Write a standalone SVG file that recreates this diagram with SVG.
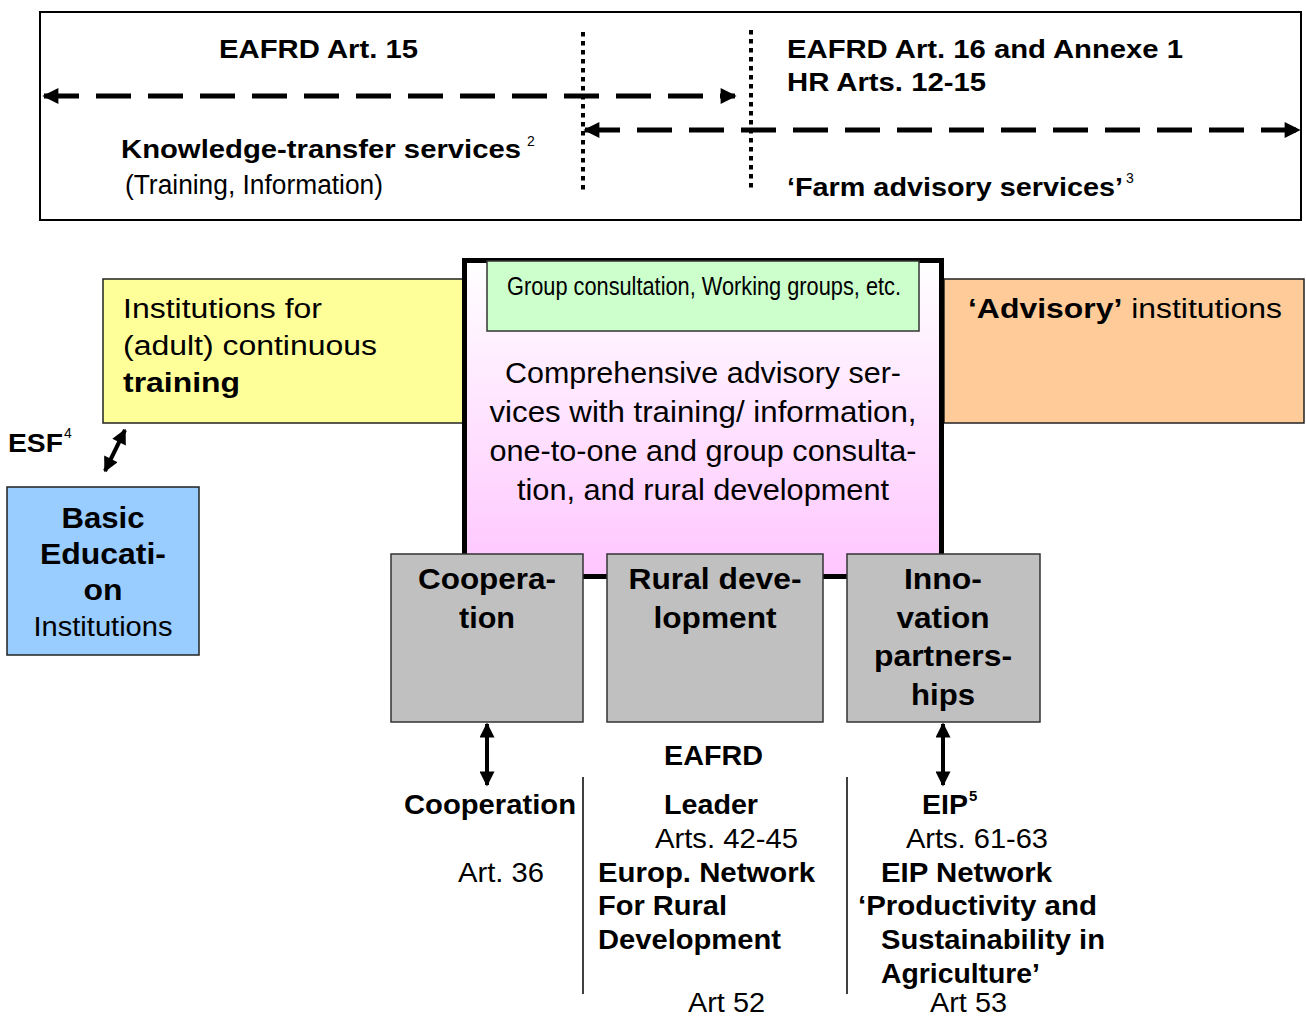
<svg xmlns="http://www.w3.org/2000/svg" width="1306" height="1017" viewBox="0 0 1306 1017">
<style>
text{font-family:"Liberation Sans",Arial,sans-serif;fill:#000}
.b{font-weight:bold}
.n{font-family:"Liberation Sans Narrow","Liberation Sans",Arial,sans-serif}
.box{stroke:#222;stroke-width:1.5}
.gray{fill:#C0C0C0;stroke:#333;stroke-width:1.5}
.dash{stroke:#000;stroke-width:5;stroke-dasharray:35 17;fill:none}
.dot{stroke:#000;stroke-width:4;stroke-dasharray:4.5 4.5;fill:none}
.arr{stroke:#000;stroke-width:4;fill:none}
.thin{stroke:#000;stroke-width:1.5}
</style>
<defs>
<linearGradient id="pink" x1="0" y1="0" x2="0" y2="1">
<stop offset="0" stop-color="#FFFFFF"/>
<stop offset="1" stop-color="#FFC6FF"/>
</linearGradient>
<marker id="ah" viewBox="0 0 10 10" refX="9" refY="5" markerWidth="18" markerHeight="16" markerUnits="userSpaceOnUse" orient="auto-start-reverse">
<path d="M0,0 L10,5 L0,10 z" fill="#000"/>
</marker>
<marker id="ah2" viewBox="0 0 10 10" refX="9" refY="5" markerWidth="18" markerHeight="15" markerUnits="userSpaceOnUse" orient="auto-start-reverse">
<path d="M0,0 L10,5 L0,10 z" fill="#000"/>
</marker>
</defs>

<g id="top-frame">
<rect x="40" y="12" width="1261" height="208" fill="#fff" stroke="#000" stroke-width="2"/>
<text class="b" x="219" y="58" font-size="26" textLength="199" lengthAdjust="spacingAndGlyphs">EAFRD Art. 15</text>
<text class="b" x="787" y="58" font-size="26" textLength="396" lengthAdjust="spacingAndGlyphs">EAFRD Art. 16 and Annexe 1</text>
<text class="b" x="787" y="91" font-size="26" textLength="199" lengthAdjust="spacingAndGlyphs">HR Arts. 12-15</text>
<text class="b" x="121" y="158" font-size="25" textLength="400" lengthAdjust="spacingAndGlyphs">Knowledge-transfer services</text>
<text x="527" y="146" font-size="14">2</text>
<text class="n" x="125" y="194" font-size="27" textLength="258" lengthAdjust="spacingAndGlyphs">(Training, Information)</text>
<text class="b" x="787" y="196" font-size="26" textLength="336" lengthAdjust="spacingAndGlyphs">‘Farm advisory services’</text>
<text x="1126" y="183" font-size="14">3</text>
</g>

<g id="connectors">
<line class="dash" x1="44" y1="96" x2="735" y2="96" marker-start="url(#ah)" marker-end="url(#ah)"/>
<line class="dash" x1="585" y1="130" x2="1299" y2="130" marker-start="url(#ah)" marker-end="url(#ah)"/>
<line class="dot" x1="583" y1="32" x2="583" y2="194"/>
<line class="dot" x1="751" y1="30" x2="751" y2="191"/>
<line class="arr" x1="125" y1="430" x2="105" y2="471" marker-start="url(#ah2)" marker-end="url(#ah2)"/>
<line class="arr" x1="487" y1="724" x2="487" y2="785" marker-start="url(#ah2)" marker-end="url(#ah2)"/>
<line class="arr" x1="943" y1="724" x2="943" y2="785" marker-start="url(#ah2)" marker-end="url(#ah2)"/>
<line class="thin" x1="583" y1="777" x2="583" y2="994"/>
<line class="thin" x1="847" y1="777" x2="847" y2="994"/>
</g>

<g id="training">
<rect class="box" x="103" y="279" width="360" height="144" fill="#FFFF99"/>
<text x="123" y="318" font-size="27" textLength="199" lengthAdjust="spacingAndGlyphs">Institutions for</text>
<text x="123" y="355" font-size="27" textLength="254" lengthAdjust="spacingAndGlyphs">(adult) continuous</text>
<text class="b" x="123" y="392" font-size="27" textLength="117" lengthAdjust="spacingAndGlyphs">training</text>
</g>

<g id="advisory">
<rect class="box" x="944" y="279" width="360" height="144" fill="#FFCC99"/>
<text x="968" y="318" font-size="27" textLength="314" lengthAdjust="spacingAndGlyphs"><tspan class="b">‘Advisory’</tspan> institutions</text>
</g>

<g id="central">
<rect x="464.5" y="260.5" width="477" height="316" fill="url(#pink)" stroke="#000" stroke-width="5"/>
<text class="n" x="703" y="383" font-size="30" text-anchor="middle" textLength="396" lengthAdjust="spacingAndGlyphs">Comprehensive advisory ser-</text>
<text class="n" x="703" y="422" font-size="30" text-anchor="middle" textLength="427" lengthAdjust="spacingAndGlyphs">vices with training/ information,</text>
<text class="n" x="703" y="461" font-size="30" text-anchor="middle" textLength="427" lengthAdjust="spacingAndGlyphs">one-to-one and group consulta-</text>
<text class="n" x="703" y="500" font-size="30" text-anchor="middle" textLength="372" lengthAdjust="spacingAndGlyphs">tion, and rural development</text>
</g>

<g id="group">
<rect x="487" y="261" width="432" height="70" fill="#CCFFCC" stroke="#333" stroke-width="1.5"/>
<text class="n" x="507" y="295" font-size="25" textLength="394" lengthAdjust="spacingAndGlyphs">Group consultation, Working groups, etc.</text>
</g>

<g id="esf-label">
<text class="b" x="8" y="452" font-size="25" textLength="55" lengthAdjust="spacingAndGlyphs">ESF</text>
<text x="64" y="438" font-size="14">4</text>
</g>

<g id="basic">
<rect class="box" x="7" y="487" width="192" height="168" fill="#99CCFF"/>
<text class="b" x="103" y="528" font-size="30" text-anchor="middle" textLength="83" lengthAdjust="spacingAndGlyphs">Basic</text>
<text class="b" x="103" y="564" font-size="30" text-anchor="middle" textLength="126" lengthAdjust="spacingAndGlyphs">Educati-</text>
<text class="b" x="103" y="600" font-size="30" text-anchor="middle" textLength="39" lengthAdjust="spacingAndGlyphs">on</text>
<text x="103" y="636" font-size="27" text-anchor="middle" textLength="139" lengthAdjust="spacingAndGlyphs">Institutions</text>
</g>

<g id="cooperation">
<rect class="gray" x="391" y="554" width="192" height="168"/>
<text class="b" x="487" y="589" font-size="30" text-anchor="middle" textLength="138" lengthAdjust="spacingAndGlyphs">Coopera-</text>
<text class="b" x="487" y="628" font-size="30" text-anchor="middle" textLength="56" lengthAdjust="spacingAndGlyphs">tion</text>
</g>

<g id="rural">
<rect class="gray" x="607" y="554" width="216" height="168"/>
<text class="b" x="715" y="589" font-size="30" text-anchor="middle" textLength="173" lengthAdjust="spacingAndGlyphs">Rural deve-</text>
<text class="b" x="715" y="628" font-size="30" text-anchor="middle" textLength="123" lengthAdjust="spacingAndGlyphs">lopment</text>
</g>

<g id="innovation">
<rect class="gray" x="847" y="554" width="193" height="168"/>
<text class="b" x="943" y="589" font-size="30" text-anchor="middle" textLength="78" lengthAdjust="spacingAndGlyphs">Inno-</text>
<text class="b" x="943" y="628" font-size="30" text-anchor="middle" textLength="93" lengthAdjust="spacingAndGlyphs">vation</text>
<text class="b" x="943" y="666" font-size="30" text-anchor="middle" textLength="138" lengthAdjust="spacingAndGlyphs">partners-</text>
<text class="b" x="943" y="705" font-size="30" text-anchor="middle" textLength="64" lengthAdjust="spacingAndGlyphs">hips</text>
</g>

<g id="eafrd-labels">
<text class="b" x="664" y="765" font-size="28" textLength="99" lengthAdjust="spacingAndGlyphs">EAFRD</text>
<text class="b" x="404" y="814" font-size="28" textLength="172" lengthAdjust="spacingAndGlyphs">Cooperation</text>
<text x="458" y="882" font-size="28" textLength="86" lengthAdjust="spacingAndGlyphs">Art. 36</text>
<text class="b" x="664" y="814" font-size="28" textLength="94" lengthAdjust="spacingAndGlyphs">Leader</text>
<text x="655" y="848" font-size="28" textLength="143" lengthAdjust="spacingAndGlyphs">Arts. 42-45</text>
<text class="b" x="598" y="882" font-size="28" textLength="217" lengthAdjust="spacingAndGlyphs">Europ. Network</text>
<text class="b" x="598" y="915" font-size="28" textLength="129" lengthAdjust="spacingAndGlyphs">For Rural</text>
<text class="b" x="598" y="949" font-size="28" textLength="183" lengthAdjust="spacingAndGlyphs">Development</text>
<text x="688" y="1012" font-size="27" textLength="77" lengthAdjust="spacingAndGlyphs">Art 52</text>
<text class="b" x="922" y="814" font-size="28" textLength="46" lengthAdjust="spacingAndGlyphs">EIP</text>
<text class="b" x="969" y="801" font-size="15">5</text>
<text x="906" y="848" font-size="28" textLength="142" lengthAdjust="spacingAndGlyphs">Arts. 61-63</text>
<text class="b" x="881" y="882" font-size="28" textLength="171" lengthAdjust="spacingAndGlyphs">EIP Network</text>
<text class="b" x="858" y="915" font-size="28" textLength="239" lengthAdjust="spacingAndGlyphs">‘Productivity and</text>
<text class="b" x="881" y="949" font-size="28" textLength="224" lengthAdjust="spacingAndGlyphs">Sustainability in</text>
<text class="b" x="881" y="983" font-size="28" textLength="159" lengthAdjust="spacingAndGlyphs">Agriculture’</text>
<text x="930" y="1012" font-size="27" textLength="77" lengthAdjust="spacingAndGlyphs">Art 53</text>
</g>
</svg>
